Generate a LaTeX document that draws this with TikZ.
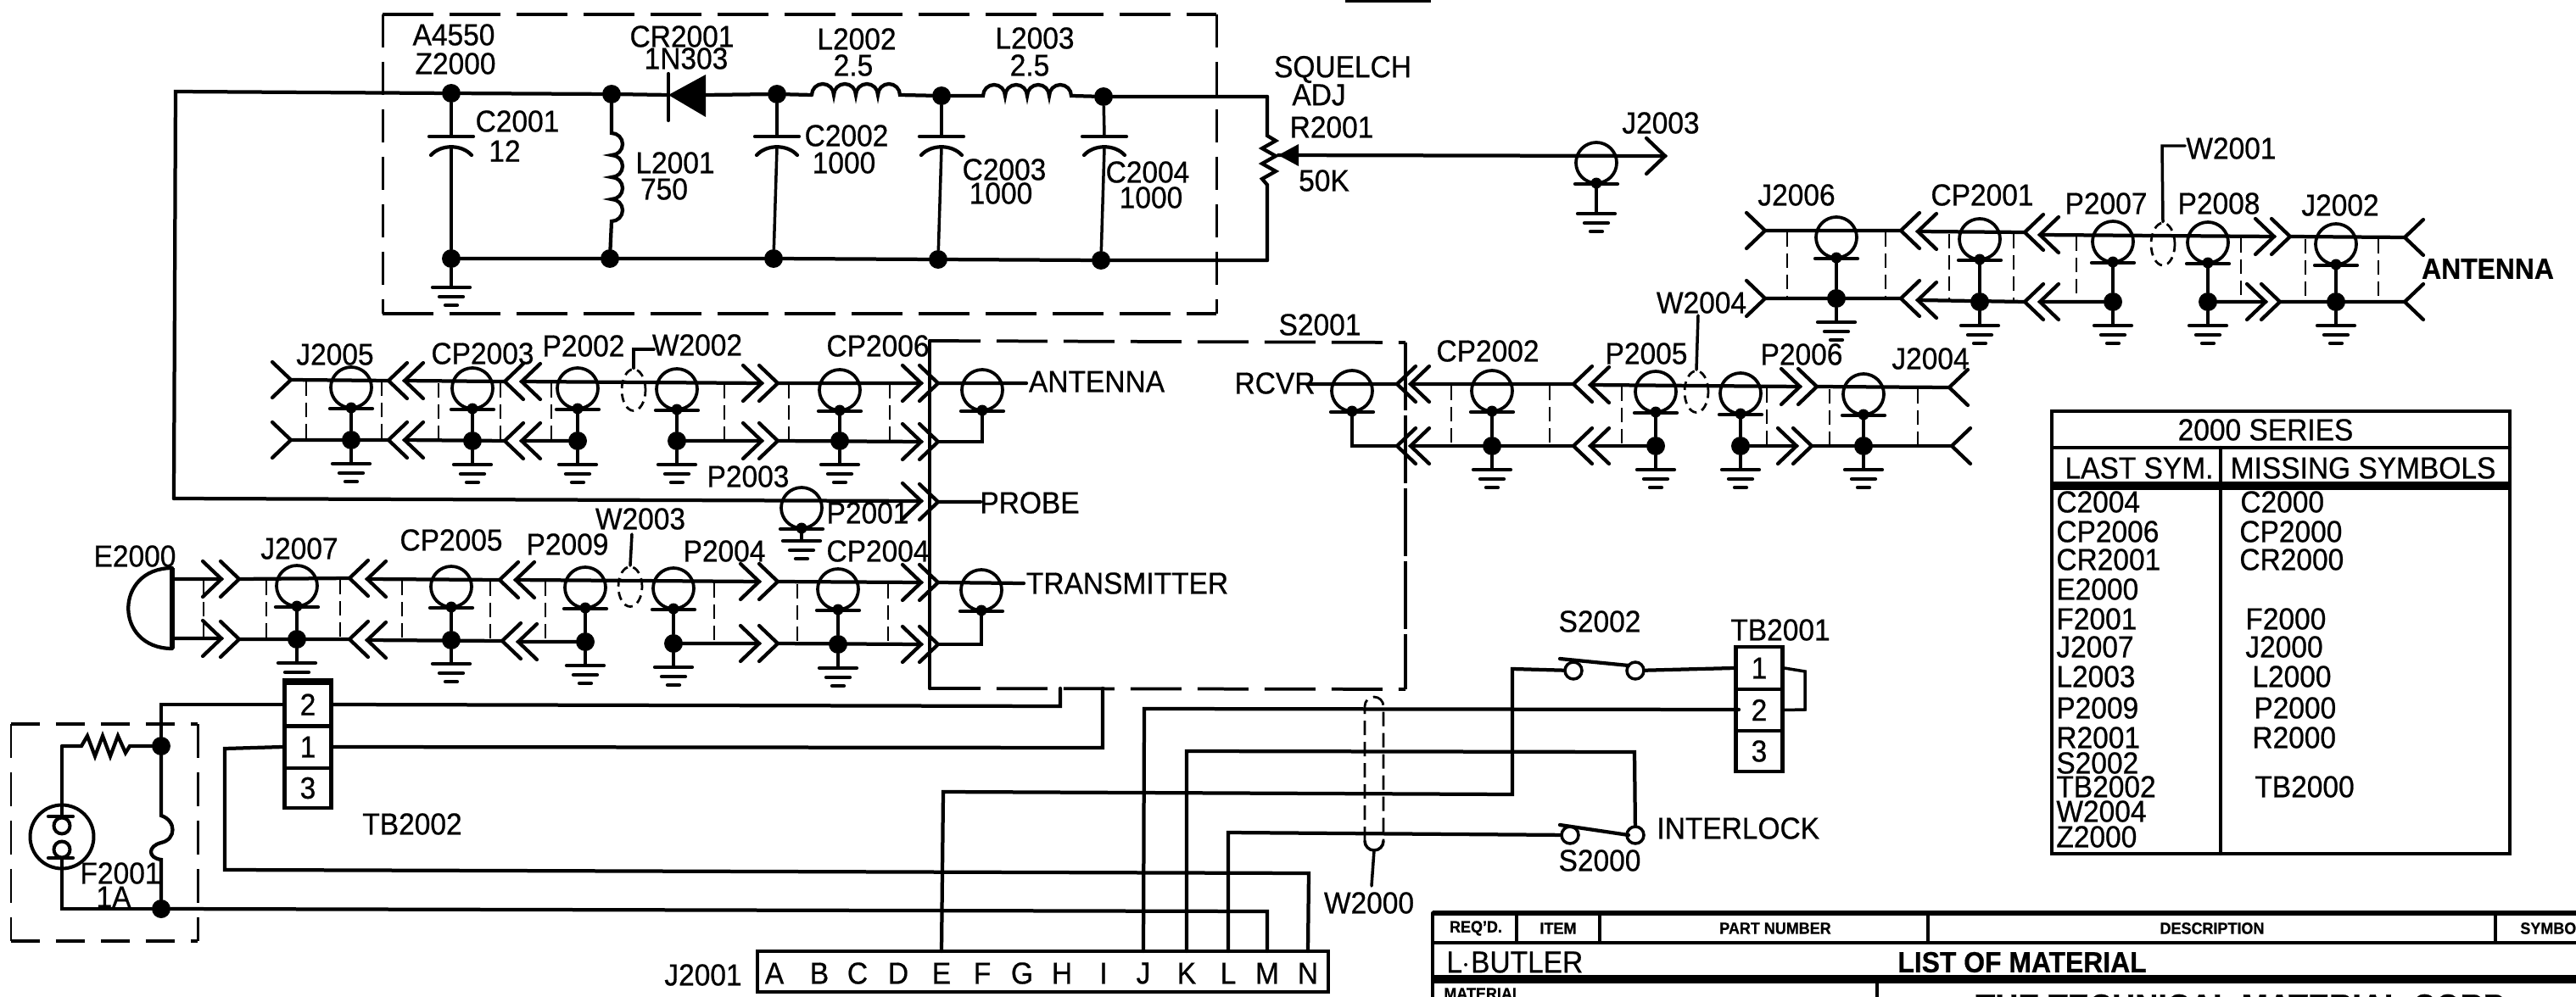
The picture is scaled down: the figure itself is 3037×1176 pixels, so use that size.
\documentclass[tikz,border=0pt]{standalone}
\usepackage{fontspec}
\setmainfont{Liberation Sans}[FakeStretch=0.93,FakeBold=0.6]
\usetikzlibrary{shapes.geometric}
\tikzset{
 wire/.style={line width=.085cm,line join=miter,line cap=round},
 thin wire/.style={line width=.07cm,line cap=round},
 shielddash/.style={line width=.055cm,dash pattern=on .34cm off .16cm},
 boxh/.style={line width=.075cm,dash pattern=on 1.2cm off .38cm},
 boxv/.style={line width=.06cm,dash pattern=on .78cm off .34cm},
 lab/.style={font=\fontsize{20.5}{21}\selectfont,inner sep=0pt},
 labb/.style={font=\fontsize{19.5}{20}\selectfont\bfseries,inner sep=0pt},
 hdr/.style={font=\fontsize{11}{12}\selectfont\bfseries,inner sep=0pt},
 jdot/.style={circle,fill=black,draw=none,minimum size=.44cm,inner sep=0pt},
 sdot/.style={circle,fill=black,draw=none,minimum size=.26cm,inner sep=0pt},
 coaxring/.style={circle,draw,line width=.075cm,minimum size=.96cm,inner sep=0pt},
 term/.style={circle,draw,fill=white,line width=.07cm,minimum size=.4cm,inner sep=0pt},
 shieldring/.style={ellipse,draw,line width=.055cm,dash pattern=on .2cm off .13cm,minimum width=.56cm,minimum height=#1,inner sep=0pt},
 shieldring/.default=1cm,
 tbox/.style={draw,line width=.09cm,minimum width=1.1cm,inner sep=0pt,font=\fontsize{20.5}{21}\selectfont},
}
% chevrons
\newcommand{\chevR}[3]{\coordinate (#1) at (#2,#3);
 \draw[wire] ({#2-22},{#3-21})--(#1)--({#2-22},{#3+21});}
\newcommand{\chevL}[3]{\coordinate (#1) at (#2,#3);
 \draw[wire] ({#2+22},{#3-21})--(#1)--({#2+22},{#3+21});}
% ground: x, y of first bar; name
\newcommand{\gnd}[3]{\coordinate (#1) at (#2,#3);
 \draw[wire] ({#2-22},#3)--({#2+22},#3) ({#2-14},{#3+11})--({#2+14},{#3+11}) ({#2-7},{#3+21})--({#2+7},{#3+21});}
% coax ring: name, x, y of wire
\newcommand{\coax}[3]{\node[coaxring] (#1) at (#2,{#3+8}) {};
 \coordinate (#1b) at (#2,{#3+32});
 \draw[wire] ({#2-25},{#3+33})--({#2+25},{#3+33});
 \node[sdot] at (#1b) {};}
% coax with junction and ground: name, x, top y, bottom y
\newcommand{\conn}[4]{\coax{#1}{#2}{#3}
 \node[jdot] (#1n) at (#2,#4) {};
 \gnd{#1g}{#2}{#4+28}
 \draw[thin wire] (#1b)--(#1n)--(#1g);}
\newcommand{\dsh}[3]{\draw[shielddash] (#1,#2)--(#1,#3);}
\newcommand{\lab}[4]{\node[lab] (#1) at (#2,#3) {#4};}
\newcommand{\labw}[4]{\node[lab,anchor=west] (#1) at (#2,#3) {#4};}
\begin{document}
\begin{tikzpicture}[x=.02cm,y=-.02cm]
\useasboundingbox (0,0) rectangle (3037,1176);
\clip (0,0) rectangle (3037,1176);
\fill[white] (0,0) rectangle (3037,1176);
\coordinate (mk1) at (1586,1); \coordinate (mk2) at (1687,1);
\draw[line width=.08cm] (mk1)--(mk2);

%===== A4550 filter box
\coordinate (fa) at (451,17); \coordinate (fb) at (1434,17);
\coordinate (fc) at (1434,370); \coordinate (fd) at (451,370);
\draw[boxh] (fa)--(fb) (fd)--(fc);
\draw[boxv] (fa)--(fd) (fb)--(fc);
\lab{t1}{535}{41}{A4550}\lab{t2}{537}{75}{Z2000}
\lab{t3}{804}{43}{CR2001}\lab{t4}{809}{69}{1N303}
\lab{t5}{1010}{46}{L2002}\lab{t6}{1006}{77}{2.5}
\lab{t7}{1220}{45}{L2003}\lab{t8}{1214}{77}{2.5}
\lab{t9}{610}{143}{C2001}\lab{t10}{595}{178}{12}
\lab{t11}{796}{192}{L2001}\lab{t12}{783}{223}{750}
\lab{t13}{998}{160}{C2002}\lab{t14}{995}{192}{1000}
\lab{t15}{1184}{200}{C2003}\lab{t16}{1180}{228}{1000}
\lab{t17}{1353}{203}{C2004}\lab{t18}{1357}{233}{1000}
\lab{t19}{1583}{82}{SQUELCH}\lab{t20}{1555}{112}{ADJ}
\lab{t21}{1570}{150}{R2001}\lab{t22}{1561}{213}{50K}
\lab{t23}{1958}{145}{J2003}\lab{t24}{1556}{383}{S2001}

\node[jdot] (n1) at (532,110) {};
\node[jdot] (n2) at (721,111) {};
\node[jdot] (n3) at (916,111) {};
\node[jdot] (n4) at (1110,113) {};
\node[jdot] (n5) at (1301,114) {};
\node[jdot] (m1) at (532,305) {};
\node[jdot] (m2) at (719,305) {};
\node[jdot] (m3) at (912,305) {};
\node[jdot] (m4) at (1106,306) {};
\node[jdot] (m5) at (1298,307) {};
\coordinate (tl) at (207,108);
\coordinate (bl) at (205,588);
\coordinate (rtop) at (1494,114); \coordinate (rbot) at (1494,307);
\coordinate (d1) at (788,112); \coordinate (d2) at (832,112);
\draw[wire] (bl)--(tl)--(n1)--(n2)--(d1) (d2)--(n3)--(957,112);
\draw[wire] (m1)--(m2)--(m3)--(m4)--(m5)--(rbot);
% diode
\draw[wire] (788,87)--(788,142);
\fill (d1)--(832,88)--(832,138)--cycle;
% inductors
\draw[wire] (957,112) arc[start angle=180,end angle=360,radius=13] arc[start angle=180,end angle=360,radius=13]
 arc[start angle=180,end angle=360,radius=13] arc[start angle=180,end angle=360,radius=13]--(n4);
\draw[wire] (n4)--(1159,113) arc[start angle=180,end angle=360,radius=13] arc[start angle=180,end angle=360,radius=13]
 arc[start angle=180,end angle=360,radius=13] arc[start angle=180,end angle=360,radius=13]--(n5)--(rtop);
\draw[wire] (n2)--(721,157) arc[start angle=-90,end angle=90,radius=13] arc[start angle=-90,end angle=90,radius=13]
 arc[start angle=-90,end angle=90,radius=13] arc[start angle=-90,end angle=90,radius=13]--(m2);
% capacitors
\foreach \cx/\ty/\bn/\tn in {532/110/m1/n1,916/111/m3/n3,1110/113/m4/n4,1302/114/m5/n5}{
 \draw[thin wire] (\tn)--(\cx,160);
 \draw[wire] ({\cx-26},161)--({\cx+26},161);
 \draw[wire] ({\cx-24},183) .. controls ({\cx-12},170) and ({\cx+12},170) .. ({\cx+24},183);
 \draw[thin wire] (\cx,174)--(\bn);
}
\gnd{g0}{532}{339}\draw[thin wire] (m1)--(g0);
% pot
\draw[wire] (rtop)--(1494,160)--(1504,166)--(1488,175)--(1504,184)--(1488,193)--(1504,202)--(1488,211)--(1494,218)--(rbot);
\coordinate (wip) at (1507,183);
\fill (wip)--(1531,170)--(1531,196)--cycle;
% J2003
\chevR{j3}{1963}{184}
\draw[wire] (wip)--(j3);
\coax{jc3}{1882}{184}
\gnd{jg3}{1882}{252}
\draw[thin wire] (jc3b)--(jg3);

%===== Row A
\lab{a01}{395}{418}{J2005}\lab{a02}{569}{417}{CP2003}\lab{a03}{688}{408}{P2002}
\lab{a04}{822}{407}{W2002}\lab{a05}{1035}{408}{CP2006}\lab{a06}{882}{562}{P2003}
\lab{a07}{1023}{605}{P2001}\lab{a08}{1293}{450}{ANTENNA}
\lab{a09}{1214}{593}{PROBE}\lab{a10}{1329}{688}{TRANSMITTER}\lab{a11}{1503}{452}{RCVR}
\chevR{a1}{343}{448}\chevL{a2}{458}{449}\chevL{a3}{477}{449}\chevL{a4}{595}{450}\chevL{a5}{615}{450}
\chevR{a6}{898}{452}\chevR{a7}{917}{452}\chevR{a8}{1086}{452}\chevR{a9}{1106}{452}
\chevR{b1}{343}{519}\chevL{b2}{458}{519}\chevL{b3}{477}{519}\chevL{b4}{595}{520}\chevL{b5}{615}{520}
\chevR{b6}{898}{520}\chevR{b7}{917}{520}\chevR{b8}{1086}{521}\chevR{b9}{1106}{521}
\coordinate (aend) at (1210,452);
\draw[wire] (a1)--(a2) (a3)--(a4) (a5)--(a6) (a7)--(a8) (a9)--(aend);
\conn{c1}{414}{449}{519}\conn{c2}{557}{450}{520}\conn{c3}{681}{450}{520}\conn{c4}{798}{451}{520}\conn{c5}{990}{452}{520}
\draw[wire] (b1)--(b2) (b3)--(b4) (b5)--(c3n) (c4n)--(b6) (b7)--(b8);
\coax{c6}{1158}{452}
\coordinate (c6k) at (1158,521);
\draw[wire] (c6b)--(c6k)--(b9);
\foreach \dx/\yy/\zz in {361/450/517,450/450/517,517/452/518,590/452/518,650/452/518,854/453/519,930/453/519,1049/453/519}{\dsh{\dx}{\yy}{\zz}}
\node[shieldring=.98cm] (s1) at (747,460) {};
\coordinate (l1a) at (747,412); \coordinate (l1b) at (771,412);
\draw[thin wire] (l1b)--(l1a)--(s1.north);

%===== Probe
\chevR{p1}{1086}{591}\chevR{p2}{1106}{592}
\coordinate (pend) at (1156,592);
\draw[wire] (bl)--(p1) (p2)--(pend);
\coax{c7}{945}{591}
\gnd{c7g}{945}{638}
\draw[thin wire] (c7b)--(c7g);

%===== Row C
\lab{e01}{159}{656}{E2000}\lab{e02}{353}{647}{J2007}\lab{e03}{532}{637}{CP2005}
\lab{e04}{669}{642}{P2009}\lab{e05}{755}{612}{W2003}\lab{e06}{854}{650}{P2004}\lab{e07}{1035}{650}{CP2004}
\coordinate (ea) at (203,670); \coordinate (eb) at (203,765);
\draw[wire] (ea) .. controls (134,670) and (134,765) .. (eb);
\draw[line width=.13cm] (ea)--(eb);
\coordinate (e1) at (203,683); \coordinate (e2) at (203,753);
\chevR{f1}{261}{683}\chevR{f2}{282}{683}\chevL{f3}{412}{682}\chevL{f4}{433}{683}\chevL{f5}{589}{684}\chevL{f6}{608}{684}
\chevR{f7}{895}{686}\chevR{f8}{917}{686}\chevR{f9}{1086}{687}\chevR{f10}{1106}{687}
\chevR{h1}{261}{753}\chevR{h2}{282}{754}\chevL{h3}{412}{754}\chevL{h4}{433}{755}\chevL{h5}{592}{756}\chevL{h6}{611}{757}
\chevR{h7}{895}{759}\chevR{h8}{917}{759}\chevR{h9}{1086}{760}\chevR{h10}{1106}{760}
\coordinate (fend) at (1207,688);
\draw[wire] (e1)--(f1) (f2)--(f3) (f4)--(f5) (f6)--(f7) (f8)--(f9) (f10)--(fend);
\conn{k1}{350}{683}{754}\conn{k2}{532}{684}{755}\conn{k3}{690}{685}{757}\conn{k4}{794}{686}{759}\conn{k5}{988}{687}{760}
\draw[wire] (e2)--(h1) (h2)--(h3) (h4)--(h5) (h6)--(k3n) (k4n)--(h7) (h8)--(h9);
\coax{k6}{1157}{688}
\coordinate (k6k) at (1157,760);
\draw[wire] (k6b)--(k6k)--(h10);
\foreach \dx/\yy/\zz in {240/685/752,314/685/753,401/684/753,474/685/754,578/686/755,643/686/756,842/688/758,940/689/759,1047/689/759}{\dsh{\dx}{\yy}{\zz}}
\node[shieldring=.94cm] (s3) at (743,692) {};
\coordinate (l3a) at (745,630);
\draw[thin wire] (l3a)--(s3.north);

%===== S2001 box
\coordinate (sa) at (1096,402); \coordinate (sb) at (1657,404);
\coordinate (sc) at (1657,813); \coordinate (sd) at (1096,812);
\draw[wire] (sa)--(sd);
\draw[boxh] (sa)--(sb) (sd)--(sc);
\draw[boxv,dash pattern=on 1.6cm off .12cm,line width=.07cm] (sb)--(sc);
% row B
\lab{r01}{1754}{414}{CP2002}\lab{r02}{1941}{417}{P2005}\lab{r03}{2006}{357}{W2004}
\lab{r04}{2124}{418}{P2006}\lab{r05}{2276}{423}{J2004}
\chevL{q1}{1647}{453}\chevL{q2}{1663}{453}\chevL{q3}{1855}{453}\chevL{q4}{1875}{454}
\chevR{q5}{2122}{456}\chevR{q6}{2142}{456}\chevL{q7}{2298}{457}
\chevL{u1}{1647}{526}\chevL{u2}{1663}{526}\chevL{u3}{1855}{526}\chevL{u4}{1875}{526}
\chevR{u5}{2118}{526}\chevR{u6}{2136}{526}\chevL{u7}{2301}{526}
\coordinate (rstart) at (1543,453);
\draw[wire] (rstart)--(q1) (q2)--(q3) (q4)--(q5) (q6)--(q7);
\coax{w0}{1594}{453}
\coordinate (w0k) at (1594,526);
\draw[thin wire] (w0b)--(w0k)--(u1);
\conn{w1}{1759}{453}{526}\conn{w2}{1952}{454}{526}\conn{w3}{2052}{456}{526}\conn{w4}{2197}{457}{526}
\draw[wire] (u2)--(u3) (u4)--(w2n) (w3n)--(u5) (u6)--(u7);
\foreach \dx/\yy/\zz in {1711/455/524,1827/455/524,1912/456/524,2083/458/524,2157/459/524,2261/459/524}{\dsh{\dx}{\yy}{\zz}}
\node[shieldring=.98cm] (s4) at (2000,462) {};
\coordinate (l4a) at (2002,372);
\draw[thin wire] (l4a)--(s4.north);
% Row D
\lab{v01}{2118}{230}{J2006}\lab{v02}{2337}{230}{CP2001}\lab{v03}{2483}{240}{P2007}
\lab{v04}{2616}{240}{P2008}\lab{v05}{2759}{242}{J2002}\labw{v06}{2577}{175}{W2001}
\node[labb] (v07) at (2933,317) {ANTENNA};
\chevR{x1}{2081}{272}\chevL{x2}{2241}{272}\chevL{x3}{2261}{273}\chevL{x4}{2387}{274}\chevL{x5}{2405}{277}
\chevR{x6}{2681}{279}\chevR{x7}{2700}{279}\chevL{x8}{2835}{280}
\chevR{y1}{2081}{352}\chevL{y2}{2241}{352}\chevL{y3}{2261}{354}\chevL{y4}{2387}{356}\chevL{y5}{2405}{356}
\chevR{y6}{2671}{356}\chevR{y7}{2688}{356}\chevL{y8}{2835}{356}
\draw[wire] (x1)--(x2) (x3)--(x4) (x5)--(x6) (x7)--(x8);
\conn{z1}{2165}{272}{352}\conn{z2}{2334}{274}{356}\conn{z3}{2491}{277}{356}\conn{z4}{2603}{278}{356}\conn{z5}{2754}{280}{356}
\draw[wire] (y1)--(y2) (y3)--(y4) (y5)--(z3n) (z4n)--(y6) (y7)--(y8);
\foreach \dx/\yy/\zz in {2107/274/350,2223/274/350,2298/276/354,2374/276/354,2448/279/354,2642/281/354,2718/282/354,2804/282/354}{\dsh{\dx}{\yy}{\zz}}
\node[shieldring=1cm] (s5) at (2550,288) {};
\coordinate (l5a) at (2549,172); \coordinate (l5b) at (2576,172);
\draw[thin wire] (l5b)--(l5a)--(s5.north);

%===== TB2002, fuse box
\node[tbox,minimum height=1.02cm] (tb21) at (363,831) {2};
\node[tbox,minimum height=1cm] (tb22) at (363,881) {1};
\node[tbox,minimum height=.94cm] (tb23) at (363,929.5) {3};
\draw[line width=.14cm] (tb21.north west)--(tb21.north east);
\lab{g01}{486}{972}{TB2002}
\coordinate (ba) at (13,854); \coordinate (bb) at (233,854); \coordinate (bc) at (233,1110); \coordinate (bd) at (13,1110);
\draw[boxh,dash pattern=on .68cm off .38cm] (ba)--(bb) (bd)--(bc);
\draw[boxv,dash pattern=on .8cm off .34cm] (ba)--(bd) (bb)--(bc);
\node[jdot] (fn1) at (190,880) {};
\node[jdot] (fn2) at (190,1072) {};
\lab{g02}{142}{1030}{F2001}\lab{g03}{134}{1058}{1A}
\coordinate (t2l) at (190,831);
\draw[wire] (tb21.west)--(t2l)--(fn1);
\draw[wire] (fn1)--(190,962) .. controls (208,968) and (208,990) .. (190,994)
 .. controls (174,998) and (174,1012) .. (190,1014)--(fn2);
\coordinate (rl) at (73,880);
\draw[wire] (fn1)--(153,880)--(148,888)--(139,868)--(130,892)--(121,868)--(112,892)--(103,868)--(96,880)--(rl);
\node[circle,draw,line width=.08cm,minimum size=1.5cm,inner sep=0pt] (ou) at (73,987) {};
\draw[thin wire] (rl)--(ou.north);
\node[circle,draw,line width=.08cm,minimum size=.38cm,inner sep=0pt] (ou1) at (73,974) {};
\node[circle,draw,line width=.08cm,minimum size=.38cm,inner sep=0pt] (ou2) at (73,1002) {};
\draw[wire] (57,963)--(86,963) (57,1012)--(86,1012) (73,948)--(ou1.north) (ou2.south)--(ou.south);
\coordinate (ol) at (73,1072);
\draw[wire] (ou.south)--(ol)--(fn2);

%===== Wiring to J2001
\node[draw,line width=.09cm,minimum width=13.46cm,minimum height=.96cm,inner sep=0pt] (jb) at (1229.5,1146) {};
\lab{j00}{829}{1150}{J2001}
\foreach \nm/\jx/\lt in {A/913/A,B/966/B,C/1011/C,D/1059/D,E/1110/E,F/1158/F,G/1205/G,H/1252/H,I/1301/I,J/1348/J,K/1399/K,L/1448/L,M/1494/M,N/1542/N}{
 \node[lab] (pin\nm) at (\jx,1148) {\lt};
 \coordinate (top\nm) at (\jx,1122);
}
\coordinate (r1) at (1250,833); \coordinate (r1u) at (1250,812);
\coordinate (r2) at (1300,882); \coordinate (r2u) at (1300,812);
\draw[wire] (tb21.east)--(r1)--(r1u);
\draw[wire] (tb22.east)--(r2)--(r2u);
\coordinate (c1a) at (265,883); \coordinate (c1b) at (265,1026); \coordinate (c1c) at (1543,1030);
\draw[wire] (tb22.west)--(c1a)--(c1b)--(c1c)--(topN);
\coordinate (c2a) at (1494,1075);
\draw[wire] (fn2)--(c2a)--(topM);
\coordinate (c3a) at (1349,836);
\coordinate (c4a) at (1399,886); \coordinate (c4b) at (1927,887);
\coordinate (c5a) at (1448,982);
\coordinate (c6a) at (1112,934); \coordinate (c6b) at (1783,937); \coordinate (c6c) at (1783,789);
\node[lab] (sw1) at (1886,733) {S2002};
\node[lab] (sw2) at (1886,1015) {S2000};
\labw{sw3}{1953}{977}{INTERLOCK}
\node[term] (st1) at (1855,791) {};
\node[term] (st2) at (1928,791) {};
\node[term] (st3) at (1851,985) {};
\node[term] (st4) at (1928,985) {};
\draw[wire] (topE)--(c6a)--(c6b)--(c6c)--(st1);
\draw[wire] (1839,777)--(1920,785) (1839,973)--(1920,985);
\draw[wire] (topJ)--(c3a)--(2050,837);
\draw[wire] (topK)--(c4a)--(c4b)--(st4);
\draw[wire] (topL)--(c5a)--(st3);
% TB2001
\node[tbox,minimum height=1cm] (tb11) at (2074,788) {1};
\node[tbox,minimum height=.98cm] (tb12) at (2074,837.5) {2};
\node[tbox,minimum height=.96cm] (tb13) at (2074,886) {3};
\lab{g04}{2099}{743}{TB2001}
\draw[wire] (st2)--(tb11.west);
\coordinate (ja) at (2128,792); \coordinate (jbb) at (2128,837);
\draw[thin wire] (tb11.east)--(ja)--(jbb)--(tb12.east);
% W2000 shield
\coordinate (wa) at (1620,1007);\coordinate (wc) at (1617,1045);
\draw[shielddash] (1609,992)--(1609,833) arc[start angle=180,end angle=360,radius=11]--(1631,992);
\draw[thin wire] (1609,992) arc[start angle=180,end angle=0,radius=11];
\draw[thin wire] (wa |- 0,1003)--(wc);
\lab{g05}{1614}{1065}{W2000}

%===== Table
\coordinate (ta) at (2419,485); \coordinate (tb) at (2959,485); \coordinate (tc) at (2959,1007); \coordinate (td) at (2419,1007);
\draw[wire] (ta)--(tb)--(tc)--(td)--cycle;
\draw[wire] (2419,528)--(2959,528);
\draw[line width=.2cm] (2419,573)--(2959,573);
\draw[wire] (2618,528)--(2618,1007);
\lab{h01}{2671}{507}{2000 SERIES}\lab{h02}{2522}{552}{LAST SYM.}\lab{h03}{2786}{552}{MISSING SYMBOLS}
\foreach \nm/\ty/\tx in {1/592/C2004,2/627/CP2006,3/660/CR2001,4/695/E2000,5/730/F2001,6/763/J2007,7/798/L2003,8/835/P2009,9/870/R2001,10/900/S2002,11/928/TB2002,12/957/W2004,13/987/Z2000}{
 \labw{ll\nm}{2424}{\ty}{\tx}}
\foreach \nm/\tyy/\txx/\tx in {1/592/2641/C2000,2/627/2640/CP2000,3/660/2640/CR2000,5/730/2647/F2000,6/763/2647/J2000,7/798/2655/L2000,8/835/2657/P2000,9/870/2655/R2000,11/928/2658/TB2000}{
 \labw{rr\nm}{\txx}{\tyy}{\tx}}

%===== Title block
\coordinate (ra) at (1689,1077); \coordinate (rb) at (3037,1077);
\coordinate (rc) at (1689,1112); \coordinate (rd) at (3037,1112);
\coordinate (re) at (1689,1155); \coordinate (rf) at (3037,1155);
\coordinate (rg) at (1689,1176);
\draw[line width=.11cm] (ra)--(rb);
\draw[line width=.09cm] (rc)--(rd);
\draw[line width=.2cm] (re)--(rf);
\draw[wire] (ra)--(rg);
\foreach \vx in {1788,1886,2273,2942}{\draw[line width=.07cm] (\vx,1077)--(\vx,1112);}
\draw[line width=.08cm] (2213,1155)--(2213,1176);
\node[hdr] (b1) at (1740,1095) {REQ'D.};
\node[hdr] (b2) at (1837,1095) {ITEM};
\node[hdr] (b3) at (2093,1095) {PART NUMBER};
\node[hdr] (b4) at (2608,1095) {DESCRIPTION};
\node[hdr,anchor=west] (b5) at (2971,1095) {SYMBOL};
\node[lab,anchor=west] (b6) at (1705,1135) {L$\cdot$BUTLER};
\node[labb] (b7) at (2384,1135) {LIST OF MATERIAL};
\node[hdr,anchor=west] (b8) at (1702,1172) {MATERIAL};
\node[font=\fontsize{23}{24}\selectfont\bfseries,inner sep=0pt,anchor=north west] (b9) at (2329,1172.5) {THE TECHNICAL MATERIAL CORP.};
\end{tikzpicture}
\end{document}
